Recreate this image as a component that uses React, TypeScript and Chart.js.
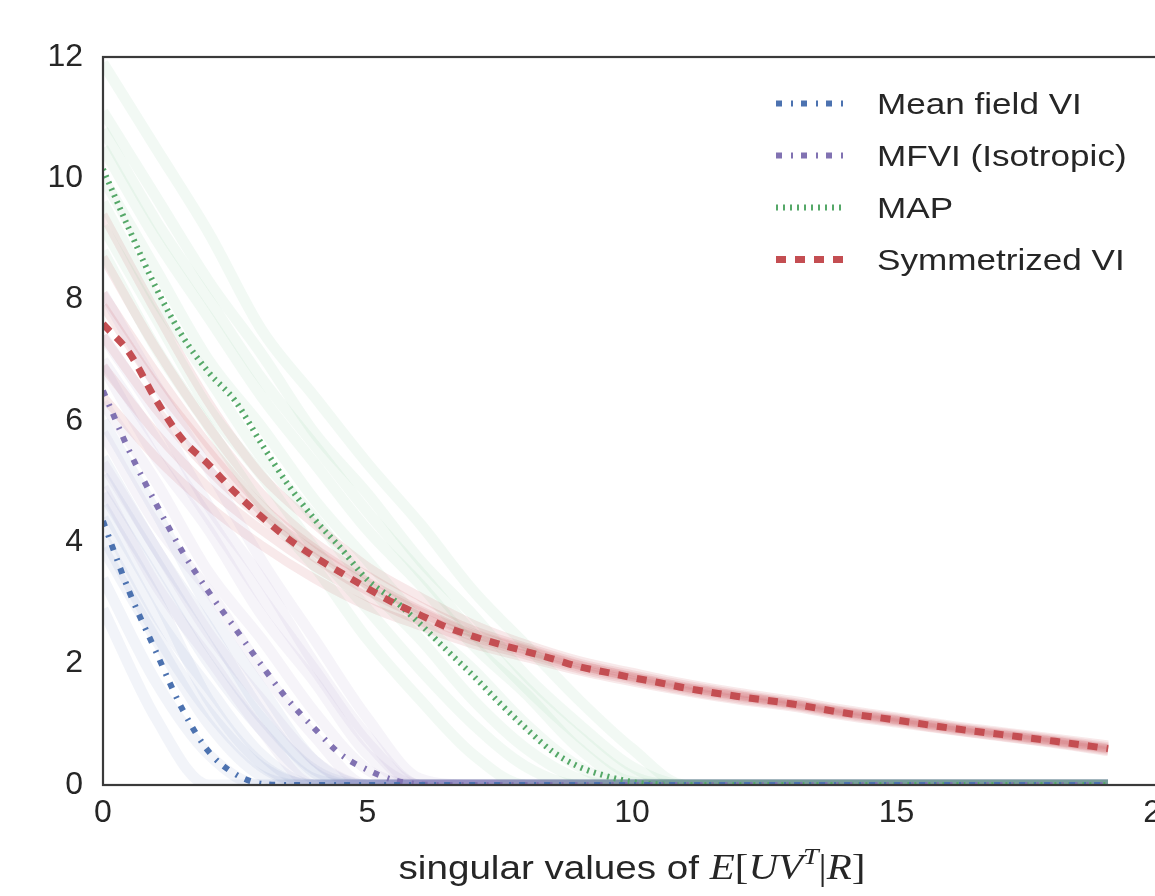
import React, { useEffect, useRef } from "react";
import { Chart, registerables } from "chart.js";

Chart.register(...registerables);

// ---------- data ----------
const xFine = [0, 0.5, 1, 1.5, 2, 2.5, 3, 3.5, 4, 4.5, 5, 5.5, 6, 6.5, 7, 7.5, 8, 8.5, 9, 9.5, 10, 10.5, 11, 12, 13, 14, 15, 16, 17, 18, 19];
const xInt = [0, 1, 2, 3, 4, 5, 6, 7, 8, 9, 10, 11, 12, 13, 14, 15, 16, 17, 18, 19];

const meanFieldVI = [4.35, 3.18, 2.2, 1.25, 0.55, 0.18, 0.02, 0, 0, 0, 0, 0, 0, 0, 0, 0, 0, 0, 0, 0, 0, 0, 0, 0, 0, 0, 0, 0, 0, 0, 0];
const mfviIsotropic = [6.5, 5.5, 4.64, 3.85, 3.18, 2.58, 1.97, 1.4, 0.93, 0.5, 0.25, 0.08, 0.01, 0, 0, 0, 0, 0, 0, 0, 0, 0, 0, 0, 0, 0, 0, 0, 0, 0, 0];
const mapValues = [10.15, 9.15, 8.2, 7.4, 6.8, 6.33, 5.62, 4.95, 4.38, 3.9, 3.38, 3.05, 2.65, 2.22, 1.8, 1.35, 0.93, 0.55, 0.3, 0.15, 0.05, 0.01, 0, 0, 0, 0, 0, 0, 0, 0, 0];
const symmetrizedVI = [7.6, 7.12, 6.35, 5.7, 5.28, 4.82, 4.42, 4.06, 3.76, 3.5, 3.24, 3.0, 2.8, 2.6, 2.45, 2.32, 2.2, 2.08, 1.95, 1.86, 1.77, 1.69, 1.6, 1.46, 1.34, 1.19, 1.07, 0.94, 0.83, 0.72, 0.6];

// individual runs (faint lines), on integer singular-value indices
const meanFieldSamples = [
  [6.0, 4.5, 2.9, 1.6, 0.4, 0, 0, 0, 0, 0, 0, 0, 0, 0, 0, 0, 0, 0, 0, 0],
  [5.4, 3.9, 2.6, 1.2, 0.2, 0, 0, 0, 0, 0, 0, 0, 0, 0, 0, 0, 0, 0, 0, 0],
  [4.8, 3.4, 2.0, 0.9, 0.1, 0, 0, 0, 0, 0, 0, 0, 0, 0, 0, 0, 0, 0, 0, 0],
  [4.4, 2.8, 1.6, 0.5, 0, 0, 0, 0, 0, 0, 0, 0, 0, 0, 0, 0, 0, 0, 0, 0],
  [3.9, 2.4, 1.0, 0.15, 0, 0, 0, 0, 0, 0, 0, 0, 0, 0, 0, 0, 0, 0, 0, 0],
  [3.4, 1.7, 0.5, 0, 0, 0, 0, 0, 0, 0, 0, 0, 0, 0, 0, 0, 0, 0, 0, 0],
  [2.9, 1.1, 0, 0, 0, 0, 0, 0, 0, 0, 0, 0, 0, 0, 0, 0, 0, 0, 0, 0],
  [4.6, 3.1, 1.4, 0.35, 0, 0, 0, 0, 0, 0, 0, 0, 0, 0, 0, 0, 0, 0, 0, 0],
  [5.1, 3.7, 2.3, 1.1, 0.25, 0, 0, 0, 0, 0, 0, 0, 0, 0, 0, 0, 0, 0, 0, 0],
  [4.1, 2.5, 1.2, 0.3, 0, 0, 0, 0, 0, 0, 0, 0, 0, 0, 0, 0, 0, 0, 0, 0],
];
const mfviSamples = [
  [8.1, 6.6, 5.2, 3.7, 2.4, 1.1, 0.1, 0, 0, 0, 0, 0, 0, 0, 0, 0, 0, 0, 0, 0],
  [7.4, 6.1, 4.6, 3.4, 2.0, 0.8, 0, 0, 0, 0, 0, 0, 0, 0, 0, 0, 0, 0, 0, 0],
  [6.9, 5.4, 4.2, 2.8, 1.7, 0.5, 0, 0, 0, 0, 0, 0, 0, 0, 0, 0, 0, 0, 0, 0],
  [6.3, 5.0, 3.5, 2.4, 1.2, 0.25, 0, 0, 0, 0, 0, 0, 0, 0, 0, 0, 0, 0, 0, 0],
  [5.8, 4.3, 3.2, 1.9, 0.8, 0, 0, 0, 0, 0, 0, 0, 0, 0, 0, 0, 0, 0, 0, 0],
  [5.3, 3.9, 2.5, 1.4, 0.4, 0, 0, 0, 0, 0, 0, 0, 0, 0, 0, 0, 0, 0, 0, 0],
  [4.9, 3.3, 2.1, 0.9, 0, 0, 0, 0, 0, 0, 0, 0, 0, 0, 0, 0, 0, 0, 0, 0],
  [7.0, 5.7, 4.4, 3.1, 1.9, 0.7, 0, 0, 0, 0, 0, 0, 0, 0, 0, 0, 0, 0, 0, 0],
];
const mapSamples = [
  [11.9, 10.5, 9.1, 7.5, 6.4, 5.3, 4.3, 3.2, 2.3, 1.4, 0.6, 0, 0, 0, 0, 0, 0, 0, 0, 0],
  [11.1, 9.7, 8.3, 7.1, 5.8, 4.8, 3.7, 2.8, 1.8, 1.0, 0.3, 0, 0, 0, 0, 0, 0, 0, 0, 0],
  [10.5, 9.0, 7.7, 6.4, 5.3, 4.2, 3.3, 2.3, 1.5, 0.6, 0.05, 0, 0, 0, 0, 0, 0, 0, 0, 0],
  [10.0, 8.5, 7.0, 5.9, 4.7, 3.7, 2.7, 1.9, 1.0, 0.3, 0, 0, 0, 0, 0, 0, 0, 0, 0, 0],
  [9.6, 8.0, 6.7, 5.4, 4.4, 3.3, 2.4, 1.4, 0.6, 0.1, 0, 0, 0, 0, 0, 0, 0, 0, 0, 0],
  [9.2, 7.7, 6.2, 5.1, 3.9, 2.9, 1.9, 1.0, 0.3, 0, 0, 0, 0, 0, 0, 0, 0, 0, 0, 0],
  [8.8, 7.2, 5.9, 4.6, 3.6, 2.4, 1.4, 0.5, 0, 0, 0, 0, 0, 0, 0, 0, 0, 0, 0, 0],
  [10.8, 9.3, 8.0, 6.7, 5.6, 4.5, 3.5, 2.5, 1.6, 0.8, 0.15, 0, 0, 0, 0, 0, 0, 0, 0, 0],
];
const symmetrizedSamples = [
  [9.4, 7.8, 6.3, 5.1, 4.3, 3.6, 3.1, 2.65, 2.32, 2.05, 1.86, 1.68, 1.53, 1.4, 1.25, 1.12, 0.99, 0.88, 0.77, 0.66],
  [8.7, 7.2, 5.9, 4.8, 4.0, 3.45, 2.95, 2.55, 2.27, 2.01, 1.82, 1.65, 1.5, 1.37, 1.22, 1.1, 0.97, 0.86, 0.75, 0.63],
  [8.1, 6.8, 5.6, 4.6, 3.9, 3.35, 2.88, 2.5, 2.24, 1.98, 1.79, 1.62, 1.48, 1.35, 1.21, 1.08, 0.95, 0.84, 0.73, 0.61],
  [7.4, 6.2, 5.2, 4.4, 3.75, 3.2, 2.78, 2.44, 2.18, 1.94, 1.76, 1.59, 1.45, 1.33, 1.18, 1.06, 0.93, 0.82, 0.71, 0.59],
  [6.9, 5.8, 4.9, 4.2, 3.6, 3.1, 2.7, 2.38, 2.14, 1.91, 1.73, 1.56, 1.42, 1.31, 1.16, 1.04, 0.91, 0.8, 0.69, 0.57],
  [6.4, 5.4, 4.6, 3.95, 3.4, 2.95, 2.62, 2.32, 2.1, 1.88, 1.7, 1.54, 1.4, 1.29, 1.14, 1.02, 0.9, 0.79, 0.68, 0.55],
  [7.9, 6.6, 5.5, 4.5, 3.85, 3.3, 2.85, 2.48, 2.22, 1.97, 1.78, 1.61, 1.47, 1.34, 1.2, 1.07, 0.95, 0.83, 0.72, 0.6],
];

const seriesLabels = ["Mean field VI", "MFVI (Isotropic)", "MAP", "Symmetrized VI"];
const xTicks = [0, 5, 10, 15, 20];
const yTicks = [0, 2, 4, 6, 8, 10, 12];

// ---------- styling ----------
const BLUE = "#4C72B0";
const PURPLE = "#8172B2";
const GREEN = "#55A868";
const RED = "#C44E52";
const TEXT = "#262626";
const SANS = '"Liberation Sans", Arial, Helvetica, sans-serif';
const SERIF = '"Liberation Serif", "DejaVu Serif", serif';
const STRETCH = 1.17;

const CANVAS_W = 1230;
const CANVAS_H = 896;

function toPoints(xs: number[], ys: number[]) {
  return xs.map((x, i) => ({ x, y: ys[i] }));
}

function rgba(hex: string, a: number) {
  const n = parseInt(hex.slice(1), 16);
  return `rgba(${(n >> 16) & 255},${(n >> 8) & 255},${n & 255},${a})`;
}

const overlayPlugin = {
  id: "overlay",
  afterDatasetsDraw(chart: any) {
    const { ctx, chartArea: a } = chart;
    ctx.save();
    ctx.strokeStyle = "#3a3a3a";
    ctx.lineWidth = 2.2;
    ctx.setLineDash([]);
    ctx.strokeRect(a.left, a.top, a.right - a.left, a.bottom - a.top);
    ctx.restore();
  },
  afterDraw(chart: any) {
    const ctx: CanvasRenderingContext2D = chart.ctx;
    // legend
    const legendItems = chart.data.datasets.filter((d: any) => d.inLegend);
    ctx.save();
    legendItems.forEach((d: any, i: number) => {
      const base = 114 + i * 52;
      const yLine = base - 10.5;
      ctx.save();
      ctx.strokeStyle = d.borderColor;
      ctx.lineWidth = d.borderWidth;
      ctx.lineCap = "butt";
      ctx.setLineDash(d.borderDash || []);
      ctx.beginPath();
      ctx.moveTo(776, yLine);
      ctx.lineTo(846, yLine);
      ctx.stroke();
      ctx.restore();
      ctx.save();
      ctx.translate(877, base);
      ctx.scale(STRETCH, 1);
      ctx.fillStyle = TEXT;
      ctx.font = `30px ${SANS}`;
      ctx.textBaseline = "alphabetic";
      ctx.textAlign = "left";
      ctx.fillText(d.label, 0, 0);
      ctx.restore();
    });
    ctx.restore();

    // x-axis title with math
    const a = chart.chartArea;
    const pieces = [
      { t: "singular values of ", f: `33px ${SANS}`, dy: 0 },
      { t: "E", f: `italic 35px ${SERIF}`, dy: 0 },
      { t: "[", f: `35px ${SERIF}`, dy: 0 },
      { t: "UV", f: `italic 35px ${SERIF}`, dy: 0 },
      { t: "T", f: `italic 24px ${SERIF}`, dy: -15 },
      { t: "|", f: `35px ${SERIF}`, dy: 0 },
      { t: "R", f: `italic 35px ${SERIF}`, dy: 0 },
      { t: "]", f: `35px ${SERIF}`, dy: 0 },
    ];
    ctx.save();
    let total = 0;
    const widths = pieces.map((p) => {
      ctx.font = p.f;
      const w = ctx.measureText(p.t).width;
      total += w;
      return w;
    });
    const cx = (a.left + a.right) / 2;
    ctx.translate(cx - (total * STRETCH) / 2, 879);
    ctx.scale(STRETCH, 1);
    ctx.fillStyle = TEXT;
    ctx.textBaseline = "alphabetic";
    ctx.textAlign = "left";
    let x = 0;
    pieces.forEach((p, i) => {
      ctx.font = p.f;
      ctx.fillText(p.t, x, p.dy);
      x += widths[i];
    });
    ctx.restore();
  },
};

export default function App() {
  const canvasRef = useRef<HTMLCanvasElement | null>(null);

  useEffect(() => {
    document.body.style.margin = "0";
    const canvas = canvasRef.current;
    if (!canvas) return;

    const sampleSet = (groups: number[][], color: string, alpha: number, width: number) =>
      groups.map((vals) => ({
        label: "",
        data: toPoints(xInt, vals),
        borderColor: rgba(color, alpha),
        borderWidth: width,
        pointRadius: 0,
        fill: false,
        cubicInterpolationMode: "monotone" as const,
        clip: 0,
        order: 2,
        inLegend: false,
      }));

    const mean = (label: string, vals: number[], color: string, width: number, dash: number[], order: number) => ({
      label,
      data: toPoints(xFine, vals),
      borderColor: color,
      borderWidth: width,
      borderDash: dash,
      borderCapStyle: "butt" as const,
      pointRadius: 0,
      fill: false,
      cubicInterpolationMode: "monotone" as const,
      clip: 0,
      order,
      inLegend: true,
    });

    const datasets: any[] = [
      ...sampleSet(mapSamples, GREEN, 0.075, 11),
      ...sampleSet(mfviSamples, PURPLE, 0.075, 11),
      ...sampleSet(meanFieldSamples, BLUE, 0.075, 11),
      ...sampleSet(symmetrizedSamples, RED, 0.12, 9),
      mean(seriesLabels[0], meanFieldVI, BLUE, 6, [6, 9, 2, 8], 1),
      mean(seriesLabels[1], mfviIsotropic, PURPLE, 6, [6, 9, 2, 8], 1),
      mean(seriesLabels[2], mapValues, GREEN, 6, [2, 5], 1),
      mean(seriesLabels[3], symmetrizedVI, RED, 7, [10, 9], 0),
    ];

    const tickFont = { family: SANS, size: 32 };

    const chart = new Chart(canvas, {
      type: "line",
      data: { datasets },
      options: {
        responsive: false,
        animation: false,
        devicePixelRatio: 1,
        events: [],
        layout: { padding: { left: 0, right: CANVAS_W - 1161, top: 57, bottom: 0 } },
        plugins: { legend: { display: false }, tooltip: { enabled: false } },
        scales: {
          x: {
            type: "linear",
            min: xTicks[0],
            max: xTicks[xTicks.length - 1],
            grid: { display: false, drawTicks: false },
            border: { display: false },
            afterBuildTicks: (s: any) => {
              s.ticks = xTicks.map((v) => ({ value: v }));
            },
            ticks: { font: tickFont, color: TEXT, padding: 9, maxRotation: 0, autoSkip: false },
            afterFit: (s: any) => {
              s.height = CANVAS_H - 785;
            },
          },
          y: {
            type: "linear",
            min: yTicks[0],
            max: yTicks[yTicks.length - 1],
            grid: { display: false, drawTicks: false },
            border: { display: false },
            afterBuildTicks: (s: any) => {
              s.ticks = yTicks.map((v) => ({ value: v }));
            },
            ticks: { font: tickFont, color: TEXT, padding: 20, autoSkip: false },
            afterFit: (s: any) => {
              s.width = 103;
            },
          },
        },
      },
      plugins: [overlayPlugin],
    } as any);

    return () => chart.destroy();
  }, []);

  return (
    <div style={{ width: 1155, height: 896, overflow: "hidden", position: "relative", background: "#fff" }}>
      <canvas ref={canvasRef} width={CANVAS_W} height={CANVAS_H} style={{ display: "block", width: CANVAS_W, height: CANVAS_H }} />
    </div>
  );
}
